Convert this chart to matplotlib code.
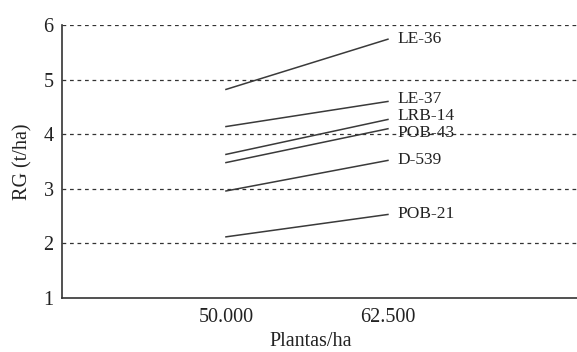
import matplotlib
matplotlib.use("Agg")
import matplotlib.pyplot as plt

densities = ["50.000", "62.500"]
varieties = ["LE-36", "LE-37", "LRB-14", "POB-43", "D-539", "POB-21"]
rg_50 = [4.82, 4.14, 3.63, 3.48, 2.96, 2.12]
rg_62 = [5.74, 4.60, 4.27, 4.10, 3.52, 2.53]

# small vertical nudges (points) so crowded labels don't overlap
label_dy = [0, 2, 2.5, -3, 0, 0]

plt.rcParams["font.family"] = ["Liberation Serif", "DejaVu Serif"]

fig = plt.figure(figsize=(5.77, 3.52), dpi=100)
ax = fig.add_axes([62 / 577, 1 - 298 / 352, 515 / 577, 273 / 352])

x = list(range(len(densities)))
for name, a, b, dy in zip(varieties, rg_50, rg_62, label_dy):
    ax.plot(x, [a, b], color="#3a3a3a", lw=1.1)
    ax.annotate(name, (x[-1], b), xytext=(7, dy), textcoords="offset points",
                va="center", ha="left", fontsize=12.5, color="#222222")

for yv in range(2, 7):
    ax.axhline(yv, color="#333333", lw=0.9, ls=(0, (3, 3)), zorder=0)

ax.set_xlim(-1.012, 2.167)
ax.set_ylim(1, 6)
ax.set_xticks(x)
ax.set_xticklabels(densities)
ax.set_yticks(range(1, 7))
ax.tick_params(length=0, labelsize=14.5, colors="#222222")
ax.tick_params(axis="y", pad=6)
ax.tick_params(axis="x", pad=7)
for s in ["top", "right"]:
    ax.spines[s].set_visible(False)
for s in ["left", "bottom"]:
    ax.spines[s].set_color("#333333")
    ax.spines[s].set_linewidth(1.2)

ax.set_xlabel("Plantas/ha", fontsize=14.5, color="#222222", va="center")
ax.xaxis.set_label_coords(0.4825, -0.161)
ax.set_ylabel("RG (t/ha)", fontsize=14.5, color="#222222", va="center")
ax.yaxis.set_label_coords(-0.0757, 0.5)

fig.savefig("out.png", dpi=100)
